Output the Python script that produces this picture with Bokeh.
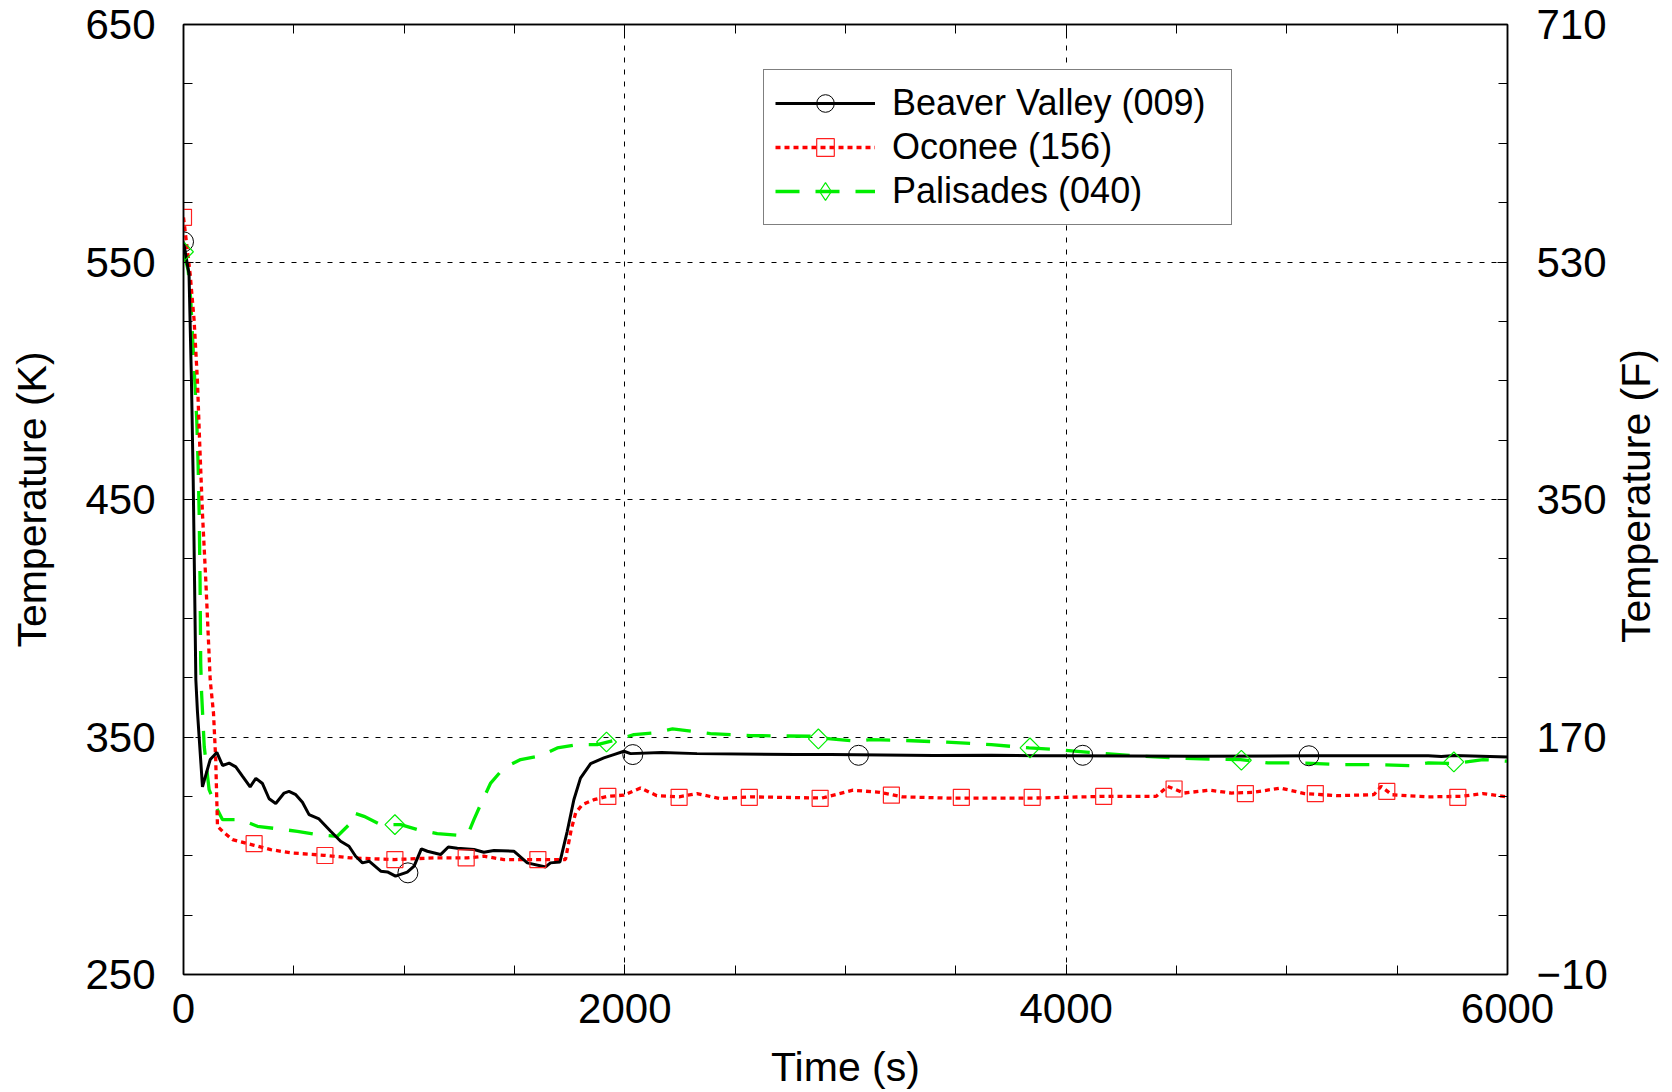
import numpy as np
from bokeh.plotting import figure
from bokeh.layouts import row
from bokeh.core.properties import value
from bokeh.models import (Range1d, LinearAxis, FixedTicker, Legend, LegendItem,
                          CustomJSTickFormatter, ColumnDataSource)
from bokeh.embed import file_html
from bokeh.resources import INLINE

# ---------------- data ----------------
bv_time = [0, 12, 25, 36, 44, 50, 56, 63, 86, 121, 151, 177, 207, 237, 267, 302, 328, 358,
           388, 418, 456, 478, 509, 539, 569, 614, 667, 712, 750, 780, 811, 841, 894, 924,
           961, 1014, 1045, 1078, 1105, 1165, 1200, 1241, 1316, 1361, 1407, 1497, 1558,
           1641, 1663, 1706, 1739, 1769, 1799, 1845, 1905, 1950, 1996, 2026, 2166, 2327,
           2772, 2933, 3400, 3661, 3863, 4000, 4590, 5100, 5641, 5700, 5760, 6000]
bv_temp = [558.5, 552, 545, 500, 458, 416, 374, 361, 329, 340.5, 343.5, 338, 339, 337.4,
           333.5, 329, 332.6, 330.4, 324, 322, 326.4, 327.1, 325.7, 322.5, 317.3, 315.5,
           310.3, 306.1, 304, 299.8, 297, 297.7, 293.5, 293.2, 291.4, 293.1, 295.6, 302.9,
           301.9, 300.5, 303.7, 303.2, 302.6, 301.5, 302.2, 301.9, 297, 295.3, 297, 297.4,
           310.3, 323.6, 332.7, 338.8, 341.2, 342.6, 344, 343, 343.5, 343, 342.6, 342.6,
           342.2, 342.3, 342.1, 342.1, 341.9, 342.1, 342.1, 341.8, 342.2, 341.6]

oc_time = [0, 10, 30, 48, 63, 74, 86, 101, 121, 136, 146, 154, 177, 222, 320, 395, 486,
           637, 758, 954, 1135, 1286, 1361, 1452, 1603, 1731, 1757, 1777, 1807, 1860, 1920,
           1995, 2071, 2145, 2246, 2327, 2428, 2570, 2893, 3034, 3156, 3257, 3459, 3863,
           4166, 4408, 4460, 4534, 4650, 4749, 4848, 4972, 5080, 5228, 5394, 5427, 5476,
           5641, 5790, 5889, 6000]
oc_temp = [568.8, 561, 545, 525.6, 500.3, 472, 444, 416, 374, 360, 340.5, 312.4, 310.3,
           306.8, 304.4, 302.6, 301.2, 300.2, 299.1, 298.4, 299.1, 299.1, 299.8, 298.4,
           298.4, 298.4, 311, 318, 321.5, 323.6, 325, 325.5, 328.5, 325.3, 324.8, 326.2,
           324.1, 324.8, 324.3, 327.6, 326.7, 324.8, 324.3, 324.3, 325, 325, 329.2, 326.4,
           327.6, 326.4, 326.7, 328.5, 326.2, 325.3, 325.7, 329.2, 325.7, 324.8, 325,
           326.2, 324.8]

pa_time = [0, 21, 33, 41, 51, 60, 66, 71, 75, 78, 82, 94, 116, 154, 177, 260, 335, 456,
           516, 607, 697, 758, 773, 818, 894, 984, 1060, 1150, 1256, 1294, 1316, 1346,
           1392, 1452, 1528, 1618, 1694, 1784, 1875, 1965, 2041, 2125, 2216, 2307, 2388,
           2570, 2853, 2933, 3055, 3115, 3257, 3459, 3661, 3832, 3964, 4105, 4307, 4485,
           4650, 4790, 4914, 5063, 5228, 5394, 5559, 5641, 5757, 5889, 6000]
pa_temp = [554.3, 546.6, 534, 518.5, 500.3, 483.5, 465.3, 444, 416, 381, 368.5, 346,
           327.8, 319.4, 315.2, 315.2, 312.4, 311, 310.3, 308.9, 308.2, 313.8, 318, 316.6,
           313.1, 313.1, 311, 309.3, 308.5, 310.3, 315.2, 321.5, 330.6, 337, 340.5, 342.1,
           345.4, 346.8, 346.8, 348.9, 351, 351.7, 353.4, 352.4, 351.4, 350.6, 350.3,
           349.2, 348.2, 348.9, 348.6, 347.8, 346.8, 345.4, 344.7, 343.5, 342.1, 341.2,
           340.7, 340.5, 339.1, 339.1, 338.4, 338.4, 337.9, 339.1, 338.8, 340.5, 339.8]

# marker positions
bv_mk_time = [0, 1017, 2036, 3059, 4075, 5100]
bv_mk_temp = [558.5, 292.8, 342.6, 342.3, 342.3, 342.1]
oc_mk_time = [0, 320, 641, 958, 1281, 1606, 1923, 2246, 2564, 2885, 3208, 3525, 3846,
              4170, 4489, 4812, 5129, 5453, 5775]
oc_mk_temp = [568.8, 305.1, 300.1, 298.4, 299.1, 298.4, 325, 324.6, 324.6, 324.2, 325.5,
              324.6, 324.6, 325, 328.1, 326.2, 326.2, 327.1, 324.6]
pa_mk_time = [0, 958, 1917, 2877, 3836, 4794, 5757]
pa_mk_temp = [554.3, 313.1, 347.9, 349.2, 345.4, 340.2, 339.5]

series_names = ["Beaver Valley (009)", "Oconee (156)", "Palisades (040)"]

x_major = [0, 2000, 4000, 6000]
k_major = [250, 350, 450, 550, 650]
f_major = [-10, 170, 350, 530, 710]

# ---------------- layout sizes ----------------
FONT = "Liberation Sans"
TOTAL_W, TOTAL_H = 1672, 1092
TITLE_W = 60                      # narrow strip holding the right-hand axis title
MAIN_W = TOTAL_W - TITLE_W
BORDER_L, BORDER_R, BORDER_T, BORDER_B = 183, 105, 24, 118

p = figure(width=MAIN_W, height=TOTAL_H, output_backend="svg", toolbar_location=None,
           x_range=Range1d(0, 6000), y_range=Range1d(250, 650),
           min_border_left=BORDER_L, min_border_right=BORDER_R, min_border_top=BORDER_T,
           min_border_bottom=BORDER_B,
           x_axis_label="Time (s)", y_axis_label="Temperature (K)")
p.extra_y_ranges = {"F": Range1d(-10, 710)}
p.background_fill_color = "white"
p.border_fill_color = "white"
p.outline_line_color = "black"
p.outline_line_width = 1.5

x_ax = p.below[0]
k_ax = p.left[0]

x_ax.ticker = FixedTicker(ticks=x_major, minor_ticks=list(range(0, 6001, 500)))
k_ax.ticker = FixedTicker(ticks=k_major, minor_ticks=list(range(250, 651, 25)))

right_ax = LinearAxis(y_range_name="F",
                      ticker=FixedTicker(ticks=f_major, minor_ticks=list(range(-10, 711, 45))),
                      formatter=CustomJSTickFormatter(
                          code="return tick < 0 ? '\u2212' + Math.abs(tick) : String(tick)"))
p.add_layout(right_ax, "right")

top_ax = LinearAxis(ticker=FixedTicker(ticks=x_major, minor_ticks=list(range(0, 6001, 500))),
                    formatter=CustomJSTickFormatter(code="return ''"))
p.add_layout(top_ax, "above")


def style_axis(ax):
    ax.axis_line_color = "black"
    ax.axis_line_width = 1.5
    ax.major_tick_in = 10
    ax.major_tick_out = 0
    ax.minor_tick_in = 9
    ax.minor_tick_out = 0
    ax.major_tick_line_color = "black"
    ax.minor_tick_line_color = "black"
    ax.major_tick_line_width = 1
    ax.minor_tick_line_width = 1
    ax.major_label_text_font = FONT
    ax.major_label_text_font_size = "42px"
    ax.major_label_text_color = "black"
    ax.axis_label_text_font = FONT
    ax.axis_label_text_font_size = "41px"
    ax.axis_label_text_font_style = "normal"
    ax.axis_label_text_color = "black"


for ax in [x_ax, k_ax, right_ax, top_ax]:
    style_axis(ax)

top_ax.major_label_standoff = 0

x_ax.major_label_standoff = 19
x_ax.axis_label_standoff = 18
k_ax.major_label_standoff = 28
k_ax.axis_label_standoff = 27
right_ax.major_label_standoff = 29

p.xgrid.ticker = FixedTicker(ticks=[2000, 4000])
p.ygrid.ticker = FixedTicker(ticks=[350, 450, 550])
for g in [p.xgrid, p.ygrid]:
    g.grid_line_color = "black"
    g.grid_line_width = 1
    g.grid_line_dash = "5 7"

# ---------------- glyphs ----------------
bv_src = ColumnDataSource(dict(x=bv_time, y=bv_temp))
oc_src = ColumnDataSource(dict(x=oc_time, y=oc_temp))
pa_src = ColumnDataSource(dict(x=pa_time, y=pa_temp))
pa_mk_src = ColumnDataSource(dict(x=pa_mk_time, y=pa_mk_temp))

pa_line = p.line("x", "y", source=pa_src, line_color="#00ee00", line_width=3.3,
                 line_dash="24 16")
oc_line = p.line("x", "y", source=oc_src, line_color="#ff0000", line_width=3.3,
                 line_dash="5 4")
bv_line = p.line("x", "y", source=bv_src, line_color="black", line_width=3)

bv_pts = p.scatter(bv_mk_time, bv_mk_temp, marker="circle", size=20, fill_color=None,
                   line_color="black", line_width=1)
oc_pts = p.scatter(oc_mk_time, oc_mk_temp, marker="square", size=16, fill_color=None,
                   line_color="#ff2020", line_width=1.2)
pa_pts = p.scatter("x", "y", source=pa_mk_src, marker="square", angle=np.pi / 4, size=14,
                   fill_color=None, line_color="#00ee00", line_width=1.2)
# legend-only diamond swatch: one undefined (NaN) point, so nothing shows in the plot
pa_key_src = ColumnDataSource(dict(x=[float("nan")], y=[float("nan")]))
pa_key = p.scatter("x", "y", source=pa_key_src, marker="diamond", size=14,
                   fill_color=None, line_color="#00ee00", line_width=1.2)

legend = Legend(items=[
    LegendItem(label=series_names[0], renderers=[bv_line, bv_pts]),
    LegendItem(label=series_names[1], renderers=[oc_line, oc_pts]),
    LegendItem(label=series_names[2], renderers=[pa_line, pa_key]),
], location=(580, 749))
legend.label_text_font = FONT
legend.label_text_font_size = "36px"
legend.label_text_color = "black"
legend.border_line_color = "black"
legend.border_line_width = 1
legend.background_fill_color = "white"
legend.background_fill_alpha = 1
legend.padding = 11
legend.spacing = 0
legend.margin = 0
legend.glyph_width = 100
legend.glyph_height = 44
legend.label_height = 44
legend.label_width = 328
legend.label_standoff = 17
p.add_layout(legend)

# ---------------- right-hand axis title strip ----------------
title_y = 550
t = figure(width=TITLE_W, height=TOTAL_H, output_backend="svg", toolbar_location=None,
           x_range=Range1d(MAIN_W, TOTAL_W), y_range=Range1d(0, TOTAL_H),
           x_axis_type=None, y_axis_type=None,
           min_border_left=0, min_border_right=0, min_border_top=0, min_border_bottom=0)
t.outline_line_color = None
t.background_fill_color = "white"
t.border_fill_color = "white"
t.grid.visible = False
t.text(x=[MAIN_W + 23], y=[title_y], text=["Temperature (F)"], angle=np.pi / 2,
       text_font=value(FONT), text_font_size="41px", text_color="black",
       text_align="center", text_baseline="middle")

layout = row(p, t, spacing=0)
open("out.html", "w").write(file_html(layout, INLINE))
